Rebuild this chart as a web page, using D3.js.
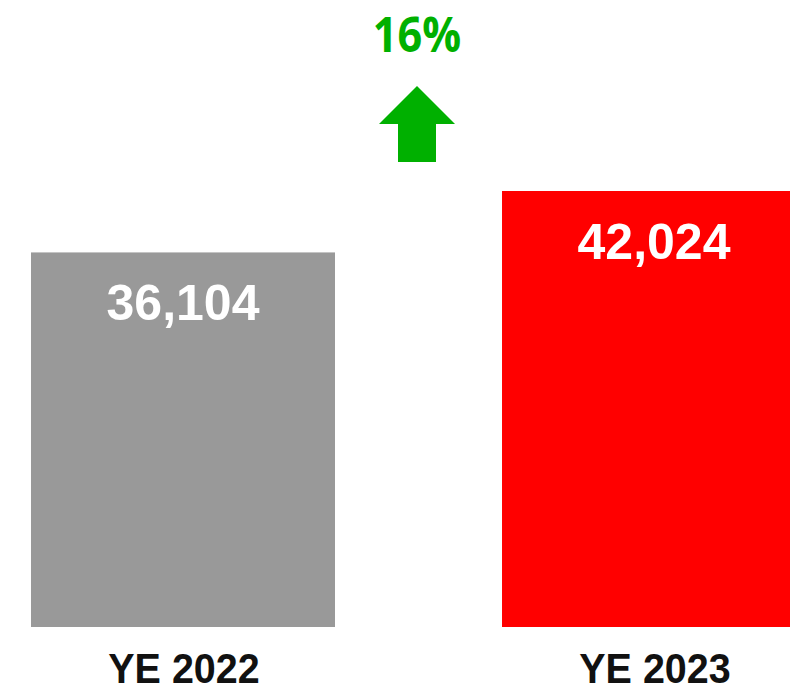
<!DOCTYPE html>
<html>
<head>
<meta charset="utf-8">
<script src="https://cdn.jsdelivr.net/npm/d3@7"></script>
<style>
  html, body { margin: 0; padding: 0; background: #ffffff; overflow: hidden; }
  svg { display: block; }
</style>
</head>
<body>
<svg id="chart" width="790" height="692"></svg>
<script>
const categories = ["YE 2022", "YE 2023"];
const values = [36104, 42024];
const barColors = ["#999999", "#ff0000"];
const changeLabel = "16%";

const svg = d3.select("#chart");

const x = d3.scaleBand().domain(categories).range([31, 806]).paddingInner(0.3546).paddingOuter(0);
const y = d3.scaleLinear().domain([0, 42024]).range([627, 191]);

const fmt = d3.format(",");

// bars
svg.selectAll("rect.bar")
  .data(categories)
  .join("rect")
  .attr("class", "bar")
  .attr("x", d => x(d))
  .attr("y", (d, i) => y(values[i]))
  .attr("width", x.bandwidth())
  .attr("height", (d, i) => y(0) - y(values[i]))
  .attr("fill", (d, i) => barColors[i]);

// value labels
svg.selectAll("text.val")
  .data(categories)
  .join("text")
  .attr("class", "val")
  .attr("x", d => x(d) + x.bandwidth() / 2)
  .attr("y", (d, i) => y(values[i]) + 68)
  .attr("text-anchor", "middle")
  .attr("font-family", "Liberation Sans, Arial, sans-serif")
  .attr("font-weight", "bold")
  .attr("font-size", 50)
  .attr("fill", "#ffffff")
  .text((d, i) => fmt(values[i]));

// category labels (slightly condensed)
svg.selectAll("text.cat")
  .data(categories)
  .join("text")
  .attr("class", "cat")
  .attr("transform", d => `translate(${x(d) + x.bandwidth() / 2 + 1},683) scale(0.94,1)`)
  .attr("text-anchor", "middle")
  .attr("font-family", "Liberation Sans, Arial, sans-serif")
  .attr("font-weight", "bold")
  .attr("font-size", 42)
  .attr("fill", "#111111")
  .text(d => d);

// change annotation between bars
const cx = (x(categories[0]) + x.bandwidth() + x(categories[1])) / 2 - 1.5;
const green = "#00b000";
svg.append("text")
  .attr("transform", `translate(${cx},52) scale(0.9,1)`)
  .attr("text-anchor", "middle")
  .attr("font-family", "Open Sans, sans-serif")
  .attr("font-weight", "bold")
  .attr("font-size", 48)
  .attr("fill", green)
  .text(changeLabel);

const arrow = d3.path();
arrow.moveTo(cx, 86);
arrow.lineTo(cx + 38, 124);
arrow.lineTo(cx + 19, 124);
arrow.lineTo(cx + 19, 162);
arrow.lineTo(cx - 19, 162);
arrow.lineTo(cx - 19, 124);
arrow.lineTo(cx - 38, 124);
arrow.closePath();
svg.append("path").attr("d", arrow.toString()).attr("fill", green);
</script>
</body>
</html>
